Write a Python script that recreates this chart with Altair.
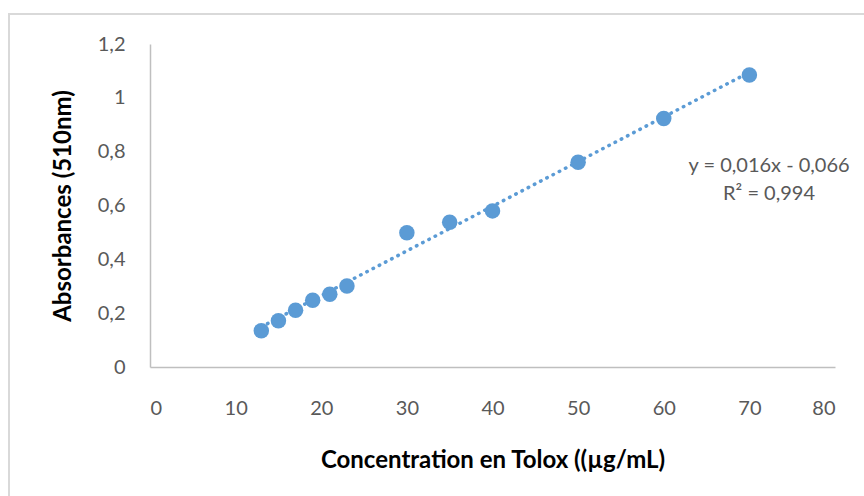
import altair as alt
import pandas as pd

# Tolox calibration: concentration (µg/mL) vs absorbance at 510 nm
concentration = [13, 15, 17, 19, 21, 23, 30, 35, 40, 50, 60, 70]
absorbance = [0.135, 0.172, 0.211, 0.248, 0.270, 0.301, 0.499, 0.538, 0.580, 0.761, 0.923, 1.085]

x_ticks = [0, 10, 20, 30, 40, 50, 60, 70, 80]
y_ticks = [0, 0.2, 0.4, 0.6, 0.8, 1.0, 1.2]

equation_lines = ["y = 0,016x - 0,066", "R² = 0,994"]

FONT = "Lato"
BLUE = "#5b9bd5"
GREY_TXT = "#595959"

df = pd.DataFrame({"conc": concentration, "abs": absorbance})

x_scale = alt.Scale(domain=[0, 80], nice=False)
y_scale = alt.Scale(domain=[0, 1.2], nice=False)

x_enc = alt.X(
    "conc:Q",
    scale=x_scale,
    axis=alt.Axis(
        values=x_ticks,
        title="Concentration en Tolox ((µg/mL)",
        titleFont=FONT, titleFontSize=24, titleFontWeight="bold", titleColor="#000000",
        titlePadding=30,
        labelFont=FONT, labelFontSize=20, labelColor=GREY_TXT, labelPadding=31,
        ticks=False, grid=False, domainColor="#bfbfbf", domainWidth=1.5,
    ),
)
y_enc = alt.Y(
    "abs:Q",
    scale=y_scale,
    axis=alt.Axis(
        values=y_ticks,
        labelExpr="replace(format(datum.value, '.1~f'), '.', ',')",
        title="Absorbances (510nm)",
        titleFont=FONT, titleFontSize=24, titleFontWeight="bold", titleColor="#000000",
        titlePadding=22,
        labelFont=FONT, labelFontSize=20, labelColor=GREY_TXT, labelPadding=25,
        ticks=False, grid=False, domainColor="#bfbfbf", domainWidth=1.5,
    ),
)

base = alt.Chart(df)

# Linear trendline over the measured range, dotted
trend = base.transform_regression(
    "conc", "abs", method="linear", extent=[13, 70]
).mark_line(
    color=BLUE, strokeWidth=3.5, strokeDash=[0.5, 6.5], strokeCap="round"
).encode(x=x_enc, y=y_enc)

points = base.mark_circle(size=240, color=BLUE, opacity=1).encode(x=x_enc, y=y_enc)

# Trendline equation, two centred lines
one = pd.DataFrame({"k": [0]})
eq_style = dict(font=FONT, fontSize=20, color=GREY_TXT, align="center", baseline="middle")
eq1 = alt.Chart(one).mark_text(**eq_style).encode(
    x=alt.X(datum=72.3, scale=x_scale), y=alt.Y(datum=0.748, scale=y_scale),
    text=alt.value(equation_lines[0]),
)
eq2 = alt.Chart(one).mark_text(**eq_style).encode(
    x=alt.X(datum=72.3, scale=x_scale), y=alt.Y(datum=0.643, scale=y_scale),
    text=alt.value(equation_lines[1]),
)

# Light grey chart-area frame
frame = alt.Chart(one).mark_rect(
    fill=None, stroke="#d9d9d9", strokeWidth=2
).encode(
    x=alt.value(-141), x2=alt.value(740),
    y=alt.value(-30), y2=alt.value(470),
)

chart = alt.layer(frame, trend, points, eq1, eq2).properties(
    width=685,
    height=323,
    padding={"left": 150, "top": 44, "right": 29, "bottom": 129},
    autosize=alt.AutoSizeParams(type="none"),
    background="#ffffff",
).configure_view(stroke=None)

chart.save("out.html", embed_options={"renderer": "svg", "actions": False})
